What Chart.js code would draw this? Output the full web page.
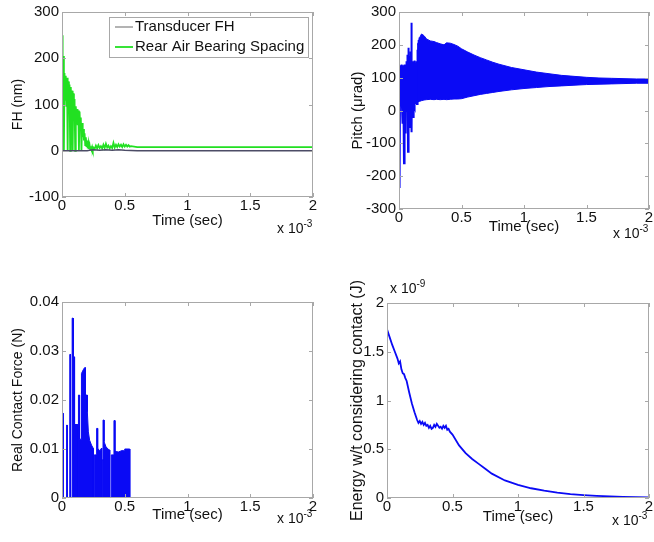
<!DOCTYPE html>
<html>
<head>
<meta charset="utf-8">
<script src="https://cdn.jsdelivr.net/npm/chart.js@4"></script>
<style>
  body { margin: 0; background: #fff; }
  #wrap { position: relative; width: 654px; height: 542px; font-family: "Liberation Sans", Arial, sans-serif; color: #111; }
  canvas { position: absolute; }
  .exp { position: absolute; font-size: 14px; line-height: 18px; white-space: nowrap; }
  .exp sup { font-size: 10px; vertical-align: 6px; line-height: 0; }
</style>
</head>
<body>
<div id="wrap">
  <canvas id="fhChart" width="330" height="245" style="left:0;top:0"></canvas>
  <canvas id="pitchChart" width="324" height="245" style="left:330px;top:0"></canvas>
  <canvas id="forceChart" width="330" height="272" style="left:0;top:270px"></canvas>
  <canvas id="energyChart" width="324" height="272" style="left:330px;top:270px"></canvas>
  <span class="exp" style="left:277px;top:219px">x 10<sup>-3</sup></span>
  <span class="exp" style="left:613px;top:224px">x 10<sup>-3</sup></span>
  <span class="exp" style="left:277px;top:509px">x 10<sup>-3</sup></span>
  <span class="exp" style="left:612px;top:511px">x 10<sup>-3</sup></span>
  <span class="exp" style="left:390px;top:279px">x 10<sup>-9</sup></span>
</div>
<script>
// time axis (units of 1e-3 s)
const timeTicks = [0, 0.5, 1, 1.5, 2];

// FH plot (nm)
const fhTicks = [-100, 0, 100, 200, 300];
const fhTransTime = [0, 0.2, 0.22, 0.25, 0.3, 0.35, 0.4, 0.45, 0.5, 0.55, 0.6, 2];
const fhTrans = [0, 0, 1, 2, 1, 2, 1, 2, 1, 0.5, 0, 0];
const fhRearTime = [0, 0.005, 0.01, 0.015, 0.02, 0.025, 0.03, 0.035, 0.04, 0.045, 0.05, 0.055, 0.06, 0.065,
  0.07, 0.075, 0.08, 0.085, 0.09, 0.095, 0.1, 0.105, 0.11, 0.115, 0.12, 0.125, 0.13, 0.135, 0.14, 0.145,
  0.15, 0.155, 0.16, 0.165, 0.17, 0.175, 0.18, 0.185, 0.19, 0.195, 0.2, 0.205, 0.21, 0.215, 0.22, 0.225,
  0.23, 0.235, 0.24, 0.245, 0.25, 0.26, 0.27, 0.28, 0.29, 0.3, 0.31, 0.32, 0.33, 0.34, 0.35, 0.36, 0.37,
  0.38, 0.39, 0.4, 0.41, 0.42, 0.43, 0.44, 0.45, 0.46, 0.47, 0.48, 0.49, 0.5, 0.51, 0.52, 0.53, 0.54, 0.55,
  0.6, 1, 1.5, 2];
const fhRear = [250, 175, 205, 0, 168, 110, 162, 95, 158, 0, 150, 100, 143, 0,
  138, 90, 130, 0, 124, 80, 112, 0, 96, 60, 90, 55, 87, 0, 85, 50,
  72, 0, 60, 30, 47, 22, 38, 12, 29, 8, 22, 5, 16, 4, 12, 3,
  10, 3, 8, 2, 7, 4, 11, 5, 12, 6, 10, 5, 13, 6, 15, 7, 11,
  5, 10, 6, 17, 7, 13, 8, 14, 9, 13, 8, 14, 9, 13, 9, 12, 9, 10,
  8, 8, 8, 8];

// Pitch plot (urad)
const pitchTicks = [-300, -200, -100, 0, 100, 200, 300];
const pitchSpikeTime = [0, 0.003, 0.006, 0.009, 0.012, 0.015, 0.018, 0.021, 0.024, 0.027, 0.03, 0.033, 0.036,
  0.04, 0.043, 0.046, 0.049, 0.053, 0.056, 0.059, 0.062, 0.065, 0.068, 0.072, 0.075, 0.078, 0.081, 0.084,
  0.087, 0.09, 0.093, 0.096, 0.099, 0.102, 0.105, 0.108, 0.111, 0.114, 0.117, 0.12, 0.123, 0.126, 0.129,
  0.132, 0.135, 0.138, 0.141, 0.144, 0.147, 0.15, 0.153, 0.156, 0.159, 0.162, 0.165];
const pitchSpike = [100, 135, -236, 138, 20, 135, 15, 140, 10, 130, -40, 138, 0,
  -161, 140, 12, 135, -70, 140, 20, 150, 0, 170, -126, 191, 10, 160, -20,
  165, -50, 180, 30, 267, -66, 150, 10, 148, -20, 150, 15, 152, 10, 145,
  20, 140, 25, 150, 20, 185, 25, 205, 30, 215, 30, 222];
const pitchBandTime = [0.15, 0.165, 0.18, 0.2, 0.22, 0.25, 0.28, 0.3, 0.33, 0.36, 0.38, 0.41, 0.44, 0.47,
  0.5, 0.55, 0.6, 0.65, 0.7, 0.75, 0.8, 0.9, 1, 1.1, 1.2, 1.3, 1.4, 1.5, 1.6, 1.7, 1.8, 1.9, 2];
const pitchHigh = [200, 222, 233, 228, 218, 212, 210, 207, 203, 200, 206, 205, 201, 196,
  188, 178, 169, 161, 154, 147, 141, 131, 124, 117, 112, 107, 104, 101, 99, 98, 97, 96, 96];
const pitchLow = [25, 30, 30, 32, 33, 34, 33, 34, 33, 34, 33, 34, 35, 35,
  36, 41, 45, 49, 52, 55, 58, 63, 67, 70, 73, 75, 77, 79, 80, 81, 82, 83, 83];

// Real contact force (N)
const forceTicks = [0, 0.01, 0.02, 0.03, 0.04];
const forceTime = [0, 0.006, 0.006, 0.009, 0.009, 0.038, 0.038, 0.041, 0.041, 0.062, 0.062, 0.068, 0.068,
  0.081, 0.081, 0.088, 0.088, 0.093, 0.093, 0.1, 0.1, 0.126, 0.126, 0.131, 0.131, 0.14, 0.14, 0.155, 0.155,
  0.17, 0.18, 0.187, 0.187, 0.202, 0.202, 0.21, 0.22, 0.235, 0.25, 0.25, 0.257, 0.257, 0.276, 0.276, 0.284,
  0.284, 0.3, 0.316, 0.316, 0.321, 0.321, 0.327, 0.327, 0.335, 0.335, 0.35, 0.365, 0.38, 0.38, 0.393, 0.393,
  0.414, 0.414, 0.422, 0.422, 0.45, 0.48, 0.5, 0.5, 0.54, 0.54, 2];
const force = [0, 0, 0.0173, 0.0173, 0, 0, 0.0149, 0.0149, 0, 0, 0.0293, 0.0293, 0,
  0, 0.0367, 0.0367, 0, 0, 0.0288, 0.0288, 0.015, 0.015, 0, 0, 0.021, 0.021, 0.012, 0.012, 0.0254,
  0.0262, 0.0266, 0.0266, 0.021, 0.021, 0.0176, 0.0135, 0.0118, 0.0108, 0.0101, 0, 0, 0.0088, 0.0088, 0.0142, 0.0142,
  0.0102, 0.0096, 0.0102, 0, 0, 0.0078, 0.0078, 0.0159, 0.0159, 0.0115, 0.0105, 0.01, 0.0098, 0, 0, 0.0088,
  0.0088, 0.0158, 0.0158, 0.0095, 0.0094, 0.0097, 0.0096, 0.01, 0.01, 0, 0];

// Energy (1e-9 J)
const energyTicks = [0, 0.5, 1, 1.5, 2];
const energyTime = [0, 0.02, 0.04, 0.06, 0.08, 0.09, 0.1, 0.11, 0.12, 0.13, 0.14, 0.15, 0.17, 0.19, 0.21,
  0.23, 0.24, 0.25, 0.26, 0.27, 0.28, 0.29, 0.3, 0.31, 0.32, 0.33, 0.34, 0.35, 0.36, 0.37, 0.38, 0.39, 0.4,
  0.41, 0.42, 0.43, 0.44, 0.45, 0.46, 0.47, 0.48, 0.5, 0.55, 0.6, 0.65, 0.7, 0.75, 0.8, 0.9, 1, 1.1, 1.2,
  1.3, 1.4, 1.5, 1.6, 1.7, 1.8, 1.9, 2];
const energy = [1.73, 1.65, 1.57, 1.5, 1.43, 1.38, 1.4, 1.32, 1.28, 1.27, 1.23, 1.2, 1.08, 0.97, 0.88,
  0.8, 0.77, 0.79, 0.76, 0.78, 0.75, 0.77, 0.74, 0.75, 0.72, 0.74, 0.71, 0.72, 0.75, 0.73, 0.76, 0.74, 0.72,
  0.73, 0.71, 0.74, 0.72, 0.74, 0.7, 0.71, 0.68, 0.65, 0.54, 0.46, 0.4, 0.35, 0.3, 0.25, 0.18, 0.135, 0.1, 0.075,
  0.055, 0.04, 0.03, 0.022, 0.016, 0.011, 0.008, 0.006];

const FONT = '"Liberation Sans", Arial, sans-serif';
const BLUE = "#0a0af5";
const GREEN = "#22e022";
const AXIS = "#a8a8a8";

const pts = (xs, ys) => xs.map((x, i) => ({ x, y: ys[i] }));
const fmt = (v) => String(parseFloat(v.toFixed(4)));

// MATLAB-style box with inward ticks
const matlabBox = {
  id: "matlabBox",
  afterDatasetsDraw(chart) {
    const { ctx, chartArea: a, scales: { x, y } } = chart;
    ctx.save();
    ctx.strokeStyle = AXIS;
    ctx.lineWidth = 1;
    ctx.strokeRect(a.left + 0.5, a.top + 0.5, a.width - 1, a.height - 1);
    ctx.beginPath();
    x.ticks.forEach((t) => {
      const px = Math.round(x.getPixelForValue(t.value)) + 0.5;
      ctx.moveTo(px, a.top); ctx.lineTo(px, a.top + 4);
      ctx.moveTo(px, a.bottom); ctx.lineTo(px, a.bottom - 4);
    });
    y.ticks.forEach((t) => {
      const py = Math.round(y.getPixelForValue(t.value)) + 0.5;
      ctx.moveTo(a.left, py); ctx.lineTo(a.left + 4, py);
      ctx.moveTo(a.right, py); ctx.lineTo(a.right - 4, py);
    });
    ctx.stroke();
    ctx.restore();
  },
};

// Legend box drawn inside the plot area
const matlabLegend = {
  id: "matlabLegend",
  afterDraw(chart, args, opts) {
    if (!opts || !opts.box) return;
    const { ctx } = chart;
    const b = opts.box;
    ctx.save();
    ctx.fillStyle = "#fff";
    ctx.fillRect(b.x, b.y, b.w, b.h);
    ctx.strokeStyle = AXIS;
    ctx.lineWidth = 1;
    ctx.strokeRect(b.x + 0.5, b.y + 0.5, b.w, b.h);
    ctx.font = `15px ${FONT}`;
    ctx.textBaseline = "middle";
    chart.data.datasets.filter((d) => d.label).forEach((d, i) => {
      const cy = b.y + b.first + i * b.rowH;
      ctx.strokeStyle = d.legendColor || d.borderColor;
      ctx.lineWidth = d.borderWidth;
      ctx.beginPath();
      ctx.moveTo(b.x + 6, cy); ctx.lineTo(b.x + 24, cy);
      ctx.stroke();
      ctx.fillStyle = "#111";
      ctx.fillText(d.label, b.x + 26, cy);
    });
    ctx.restore();
  },
};

function buildChart(id, { datasets, yTicks, yTitle, yTitleSize, plot, xTitlePad, yTitlePad, legend }) {
  const canvas = document.getElementById(id);
  const W = canvas.width, H = canvas.height;
  const tickFont = { family: FONT, size: 15 };
  return new Chart(canvas, {
    type: "line",
    data: { datasets },
    options: {
      responsive: false,
      animation: false,
      parsing: false,
      layout: { padding: { left: 0, top: plot.top, right: W - plot.right, bottom: 0 } },
      elements: { point: { radius: 0 }, line: { tension: 0 } },
      plugins: { legend: { display: false }, tooltip: { enabled: false }, matlabLegend: legend || {} },
      scales: {
        x: {
          type: "linear", min: timeTicks[0], max: timeTicks[timeTicks.length - 1],
          afterBuildTicks: (s) => { s.ticks = timeTicks.map((v) => ({ value: v })); },
          afterFit: (s) => { s.height = H - plot.bottom; },
          grid: { display: false, drawTicks: false }, border: { display: false },
          ticks: { color: "#111", font: tickFont, padding: 0, maxRotation: 0, autoSkip: false, callback: (v) => fmt(v) },
          title: { display: true, text: "Time (sec)", color: "#111", font: tickFont, padding: { top: 0, bottom: xTitlePad } },
        },
        y: {
          type: "linear", min: yTicks[0], max: yTicks[yTicks.length - 1],
          afterBuildTicks: (s) => { s.ticks = yTicks.map((v) => ({ value: v })); },
          afterFit: (s) => { s.width = plot.left; },
          grid: { display: false, drawTicks: false }, border: { display: false },
          ticks: { color: "#111", font: tickFont, padding: 3, autoSkip: false, callback: (v) => fmt(v) },
          title: { display: true, text: yTitle, color: "#111", font: { family: FONT, size: yTitleSize }, padding: { top: yTitlePad, bottom: 0 } },
        },
      },
    },
    plugins: [matlabBox, matlabLegend],
  });
}

buildChart("fhChart", {
  yTicks: fhTicks, yTitle: "FH (nm)", yTitleSize: 14,
  plot: { left: 62, right: 313, top: 11, bottom: 197 }, xTitlePad: 15, yTitlePad: 10,
  legend: { box: { x: 109, y: 17, w: 199, h: 40, first: 10, rowH: 20 } },
  datasets: [
    { label: "Transducer FH", data: pts(fhTransTime, fhTrans), borderColor: "#4c4c66", legendColor: "#9a9a9a", borderWidth: 1.5, order: 0 },
    { label: "Rear Air Bearing Spacing", data: pts(fhRearTime, fhRear), borderColor: GREEN, borderWidth: 1.8, order: 1 },
  ],
});

buildChart("pitchChart", {
  yTicks: pitchTicks, yTitle: "Pitch (\u03bcrad)", yTitleSize: 15,
  plot: { left: 69, right: 319, top: 11, bottom: 209 }, xTitlePad: 9, yTitlePad: 19,
  datasets: [
    { data: pts(pitchBandTime, pitchHigh), borderColor: BLUE, backgroundColor: BLUE, borderWidth: 1, fill: "+1" },
    { data: pts(pitchBandTime, pitchLow), borderColor: BLUE, borderWidth: 1, fill: false },
    { data: pts(pitchSpikeTime, pitchSpike), borderColor: BLUE, borderWidth: 2, fill: false },
  ],
});

buildChart("forceChart", {
  yTicks: forceTicks, yTitle: "Real Contact Force (N)", yTitleSize: 14,
  plot: { left: 62, right: 313, top: 32, bottom: 228 }, xTitlePad: 18, yTitlePad: 10,
  datasets: [
    { data: pts(forceTime, force), borderColor: BLUE, backgroundColor: BLUE, borderWidth: 1, fill: "origin" },
  ],
});

buildChart("energyChart", {
  yTicks: energyTicks, yTitle: "Energy w/t considering contact (J)", yTitleSize: 16,
  plot: { left: 57, right: 319, top: 33, bottom: 228 }, xTitlePad: 16, yTitlePad: 18,
  datasets: [
    { data: pts(energyTime, energy), borderColor: BLUE, borderWidth: 1.8, fill: false },
  ],
});
</script>
</body>
</html>
